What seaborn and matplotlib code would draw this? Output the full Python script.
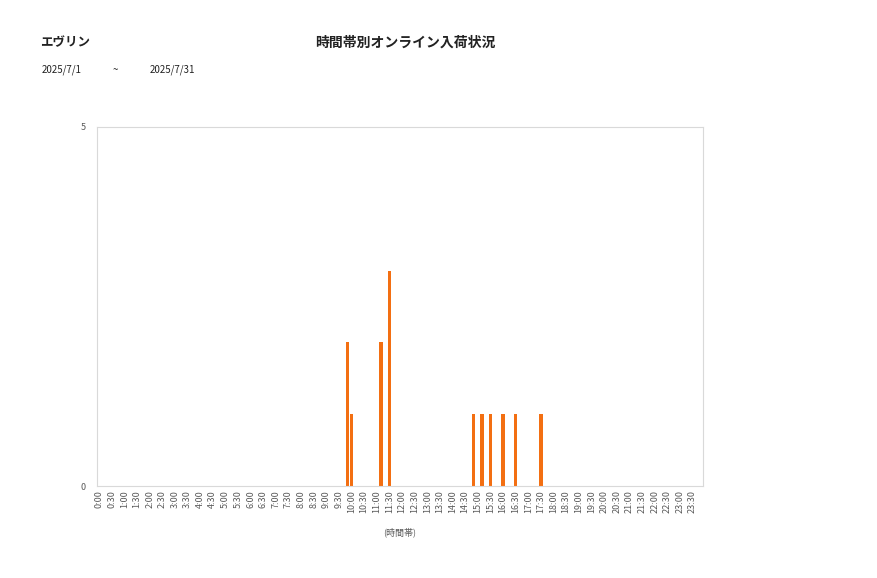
import pandas as pd
import matplotlib.pyplot as plt
import seaborn as sns

# 10-minute time slots, label shown every 30 min
SLOT_MINUTES = 10
hours = list(range(24))
slot_labels = [f"{h}:{m:02d}" for h in hours for m in range(0, 60, SLOT_MINUTES)]

# slots with arrivals (everything else is 0)
arrival_slots = ["9:50", "10:00", "11:10", "11:30", "14:50", "15:10", "15:30", "16:00", "16:30", "17:30"]
arrival_counts = [2, 1, 2, 3, 1, 1, 1, 1, 1, 1]

shop_name = "エヴリン"
chart_title = "時間帯別オンライン入荷状況"
date_from = "2025/7/1"
date_to = "2025/7/31"
x_label = "(時間帯)"

BAR_COLOR = "#F36F12"
TEXT_COLOR = "#595959"

sns.set_style("white")
plt.rcParams['font.family'] = ['Noto Sans CJK JP', 'DejaVu Sans']

counts = dict(zip(arrival_slots, arrival_counts))
df = pd.DataFrame({"slot": slot_labels,
                   "count": [counts.get(s, 0) for s in slot_labels]})

fig = plt.figure(figsize=(8.77, 5.78), dpi=100)
ax = fig.add_axes([97/877, 1-486/578, (703-97)/877, (486-127)/578])

sns.barplot(data=df, x="slot", y="count", order=slot_labels, color=BAR_COLOR,
            width=0.8, saturation=1, linewidth=0, ax=ax)

ax.set_xlim(-0.5, len(slot_labels) - 0.5)
ax.set_ylim(0, 5)
ax.set_yticks([0, 5])
ax.set_yticklabels(["0", "5"], fontsize=6.5, color=TEXT_COLOR)
tick_pos = list(range(0, len(slot_labels), 3))
ax.set_xticks(tick_pos)
ax.set_xticklabels([slot_labels[i] for i in tick_pos], rotation=90,
                   fontsize=6.5, color=TEXT_COLOR)
ax.tick_params(axis="both", length=0, pad=3)
ax.tick_params(axis="y", pad=8)
ax.set_xlabel(x_label, fontsize=6.5, color=TEXT_COLOR, labelpad=10)
ax.set_ylabel("")
for sp in ax.spines.values():
    sp.set_color("#D9D9D9")
    sp.set_linewidth(0.8)

fig.text(40/877, 1-43/578, shop_name, fontsize=9, fontweight="bold",
         va="center", ha="left", color="#222222")
fig.text(405/877, 1-43/578, chart_title, fontsize=10, fontweight="bold",
         va="center", ha="center", color="#222222")
fig.text(42/877, 1-70/578, date_from, fontsize=7, va="center", ha="left", color="#222222")
fig.text(115/877, 1-70/578, "~", fontsize=7, va="center", ha="center", color="#222222")
fig.text(150/877, 1-70/578, date_to, fontsize=7, va="center", ha="left", color="#222222")

fig.savefig("out.png", dpi=100)
